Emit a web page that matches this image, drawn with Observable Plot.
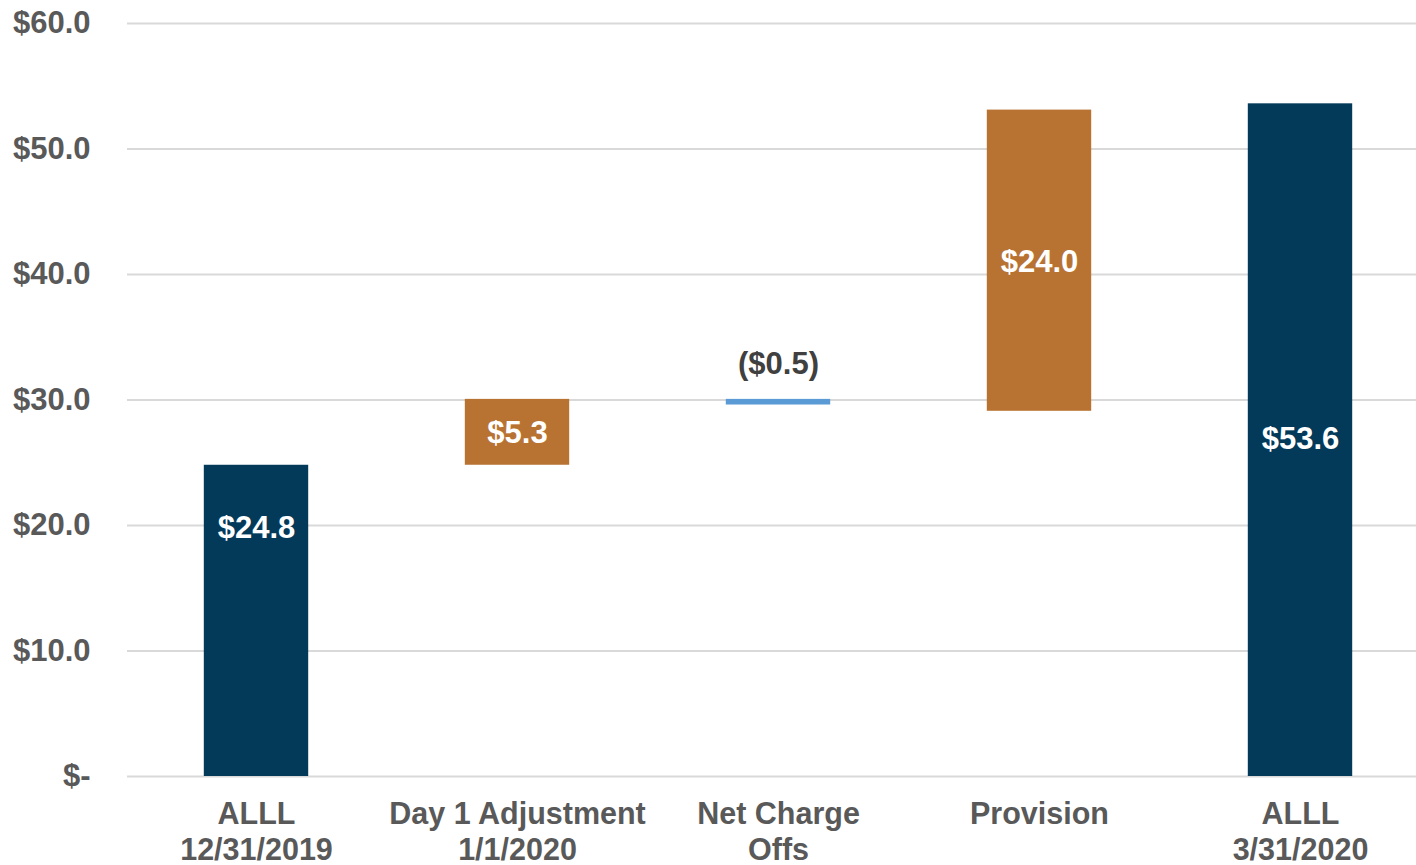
<!DOCTYPE html>
<html>
<head>
<meta charset="utf-8">
<script src="https://cdn.jsdelivr.net/npm/d3@7"></script>
<script src="https://cdn.jsdelivr.net/npm/@observablehq/plot@0.6"></script>
<style>
  html, body { margin: 0; padding: 0; background: #fff; overflow: hidden; }
  #chart svg { display: block; overflow: visible; }
</style>
</head>
<body>
<div id="chart"></div>
<script>
// Categories (two-line labels)
const categories = ["ALLL\n12/31/2019", "Day 1 Adjustment\n1/1/2020", "Net Charge\nOffs", "Provision", "ALLL\n3/31/2020"];
// Change / total amounts shown as labels
const amounts = [24.8, 5.3, -0.5, 24.0, 53.6];
// Bar start and end
const barBase = [0, 24.8, 30.05, 29.1, 0];
const barTop = [24.8, 30.05, 29.6, 53.1, 53.6];
// Vertical position of each value label (data units)
const labelAt = [19.8, 27.35, 32.85, 41.0, 26.85];
// Bar kind: total, increase, decrease
const kinds = ["total", "increase", "decrease", "increase", "total"];
// Y-axis ticks
const yTicks = [0, 10, 20, 30, 40, 50, 60];
const yTickLabels = ["$-", "$10.0", "$20.0", "$30.0", "$40.0", "$50.0", "$60.0"];

const kindColor = {total: "#033A5A", increase: "#B87333", decrease: "#5B9BD5"};
const labelColor = {total: "#ffffff", increase: "#ffffff", decrease: "#404040"};

const rows = categories.map((c, i) => ({
  cat: c, amount: amounts[i], y1: barBase[i], y2: barTop[i], ly: labelAt[i], kind: kinds[i]
}));

const fmt = v => v < 0 ? `($${Math.abs(v).toFixed(1)})` : `$${v.toFixed(1)}`;

const chart = Plot.plot({
  width: 1416,
  height: 865,
  marginLeft: 127,
  marginRight: 0,
  marginTop: 23,
  marginBottom: 89,
  style: {fontFamily: "'Liberation Sans', Arial, sans-serif", background: "#fff"},
  x: {domain: categories, range: [125.5, 1430.5], paddingInner: 0.6, paddingOuter: 0.3, round: false},
  y: {domain: [0, 60]},
  marks: [
    Plot.ruleY(yTicks, {stroke: "#d9d9d9", strokeWidth: 2}),
    Plot.barY(rows, {x: "cat", y1: "y1", y2: "y2", fill: d => kindColor[d.kind], inset: 0}),
    Plot.text(rows, {
      x: "cat", y: "ly", text: d => fmt(d.amount),
      fill: d => labelColor[d.kind], fontSize: 31, fontWeight: "bold"
    }),
    Plot.axisY({
      ticks: yTicks, tickSize: 0, tickPadding: 37,
      tickFormat: d => yTickLabels[yTicks.indexOf(d)],
      fontSize: 31, fontWeight: "bold", fill: "#595959", label: null
    }),
    Plot.axisX({
      tickSize: 0, tickPadding: 21, lineAnchor: "top", lineHeight: 1.2,
      fontSize: 30.5, fontWeight: "bold", fill: "#595959", label: null
    })
  ]
});
document.getElementById("chart").appendChild(chart);
</script>
</body>
</html>
